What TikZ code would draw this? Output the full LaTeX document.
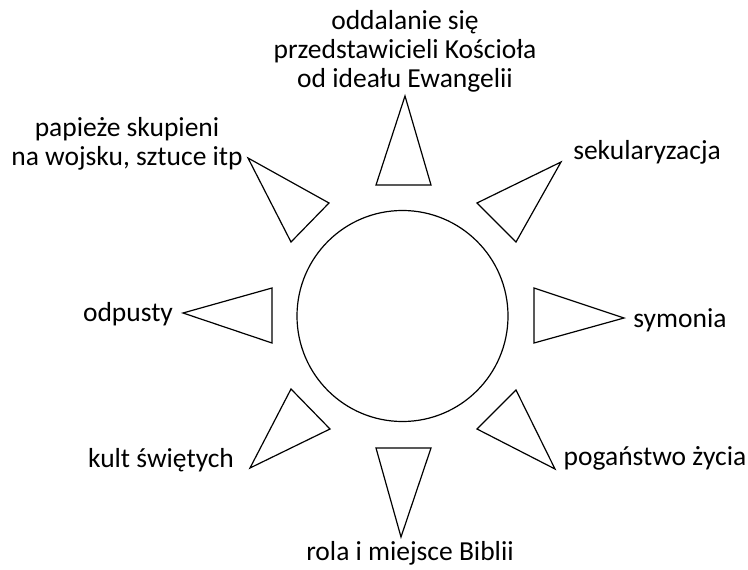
\documentclass[tikz,border=0pt]{standalone}
\usepackage{fontspec}
\setmainfont{Carlito}
\usepackage{tikz}

\begin{document}
\begin{tikzpicture}[x=1bp, y=-1bp,
  ray/.style={draw, line width=1.2bp, line join=miter},
  lbl/.style={align=center, inner sep=0pt, font=\fontsize{27.5bp}{29bp}\selectfont}]
\useasboundingbox (0,0) rectangle (748,570);
\node[draw, circle, line width=1.2bp, minimum size=211bp, inner sep=0pt] (sun) at (402.5,316) {};
\draw[ray] (405,96) -- (431,185) -- (376,185) -- cycle;
\draw[ray] (561,162) -- (516,242) -- (477,203) -- cycle;
\draw[ray] (624,318) -- (534,343) -- (534,288) -- cycle;
\draw[ray] (555,469) -- (477,429) -- (516,390) -- cycle;
\draw[ray] (401,537) -- (376,448) -- (431,448) -- cycle;
\draw[ray] (250,468) -- (291,389) -- (330,429) -- cycle;
\draw[ray] (183,313) -- (272,288) -- (272,343) -- cycle;
\draw[ray] (248,158) -- (329,203) -- (291,242) -- cycle;
\node[lbl] (idealy) at (405,51) {oddalanie się\\przedstawicieli Kościoła\\od ideału Ewangelii};
\node[lbl] (sekular) at (647,152) {sekularyzacja};
\node[lbl] (symonia) at (680,320) {symonia};
\node[lbl] (poganstwo) at (655,458) {pogaństwo życia};
\node[lbl] (biblia) at (410,553) {rola i miejsce Biblii};
\node[lbl] (kult) at (161,460) {kult świętych};
\node[lbl] (odpusty) at (128,314) {odpusty};
\node[lbl] (papieze) at (127,144) {papieże skupieni\\na wojsku, sztuce itp};
\end{tikzpicture}
\end{document}
